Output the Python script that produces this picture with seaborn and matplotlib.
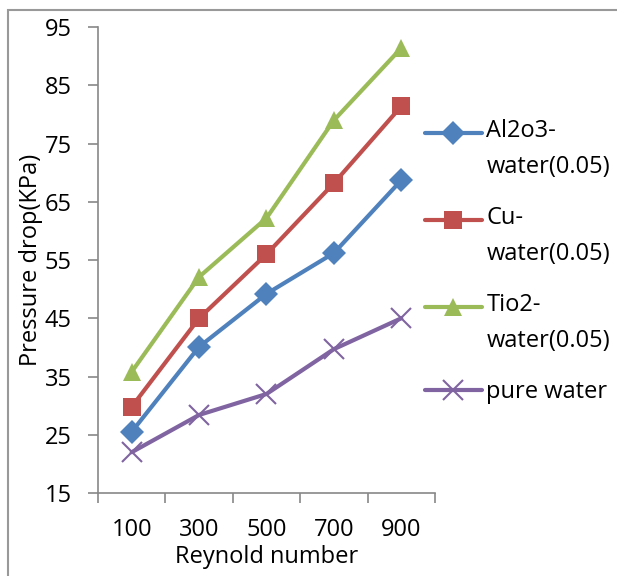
import pandas as pd
import seaborn as sns
import matplotlib.pyplot as plt
from matplotlib.patches import Rectangle
from matplotlib.legend_handler import HandlerLine2D

reynolds = ["100", "300", "500", "700", "900"]
al2o3 = [25.5, 40.1, 49.2, 56.2, 68.7]
cu = [29.8, 45.0, 56.0, 68.2, 81.4]
tio2 = [35.8, 52.1, 62.2, 79.0, 91.4]
pure = [22.0, 28.4, 32.0, 39.7, 45.0]
labels = ["Al2o3-\nwater(0.05)", "Cu-\nwater(0.05)", "Tio2-\nwater(0.05)", "pure water"]
colors = ["#4F81BD", "#C0504D", "#9BBB59", "#8064A2"]
markers = ["D", "s", "^", "x"]
msizes = [12, 13, 13, 14]


class FirstLineHandler(HandlerLine2D):
    # put the legend handle on the first line of a two-line label
    def __init__(self, shift, **kw):
        super().__init__(**kw)
        self.shift = shift

    def create_artists(self, legend, orig_handle, xdescent, ydescent, width, height, fontsize, trans):
        return super().create_artists(legend, orig_handle, xdescent, ydescent - 2 * self.shift,
                                      width, height, fontsize, trans)


sns.set_style("white")
plt.rcParams['font.family'] = ['Open Sans', 'DejaVu Sans']
plt.rcParams['text.color'] = 'black'
plt.rcParams['axes.labelcolor'] = 'black'

fs = 17

fig = plt.figure(figsize=(6.17, 5.76), dpi=100)
ax = fig.add_axes([0.1588, 0.1441, 0.5462, 0.8089])

for lab, vals, c, m, ms in zip(labels, [al2o3, cu, tio2, pure], colors, markers, msizes):
    d = pd.DataFrame({"Reynold number": reynolds, "Pressure drop(KPa)": vals})
    sns.lineplot(data=d, x="Reynold number", y="Pressure drop(KPa)", color=c,
                 marker=m, markersize=ms, markeredgewidth=1.5 if m == "x" else 0,
                 markeredgecolor=c, linewidth=3, sort=False, label=lab, ax=ax)

ax.set_ylim(15, 95)
ax.set_yticks(range(15, 96, 10))
ax.set_xlim(-0.5, 4.5)
ax.set_xticks([i - 0.5 for i in range(6)])
ax.set_xticklabels([])
ax.set_xticks(range(5), minor=True)
ax.set_xticklabels(reynolds, minor=True)
ax.tick_params(left=True, bottom=True)
ax.tick_params(axis="x", which="minor", length=0, pad=18, labelsize=fs, labelcolor="black")
ax.tick_params(axis="x", which="major", length=7, width=1.2, color="#888888", direction="out")
ax.tick_params(axis="y", length=7, width=1.2, color="#888888", direction="out",
               labelsize=fs, labelcolor="black", pad=12)
ax.set_xlabel("Reynold number", fontsize=fs, labelpad=2)
ax.set_ylabel("Pressure drop(KPa)", fontsize=fs, labelpad=1)
for s in ["top", "right"]:
    ax.spines[s].set_visible(False)
for s in ["left", "bottom"]:
    ax.spines[s].set_color("#888888")
    ax.spines[s].set_linewidth(1.2)

handles, hl = ax.get_legend_handles_labels()
hmap = {h: FirstLineHandler(12) for h, t in zip(handles, hl) if "\n" in t}
leg = ax.legend(handles, hl, handler_map=hmap, loc="upper left",
                bbox_to_anchor=(425 / 617, 0.793), bbox_transform=fig.transFigure,
                frameon=False, fontsize=fs, handlelength=2.4, labelspacing=1.15,
                handletextpad=0.2, borderaxespad=0, borderpad=0)
for t in leg.get_texts():
    t.set_linespacing(1.65)

fig.patches.append(Rectangle((8 / 617, -0.05), 1.1, 1 - 10 / 576 + 0.05,
                             transform=fig.transFigure, fill=False,
                             edgecolor="#999999", linewidth=1.5))

fig.savefig("out.png", dpi=100)
